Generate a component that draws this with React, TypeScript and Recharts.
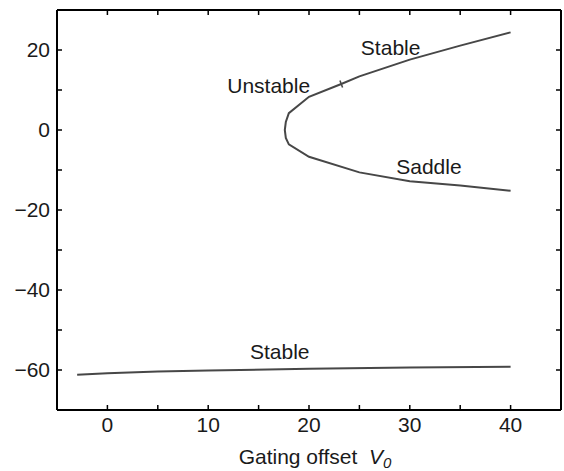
import { ComposedChart, Line, Scatter, XAxis, YAxis, ReferenceDot } from 'recharts';

// upper branch through the fold (V0, membrane potential)
const upperBranch = [
  { x: 40, y: 24.4 },
  { x: 35, y: 21.1 },
  { x: 30, y: 17.6 },
  { x: 25, y: 13.4 },
  { x: 23.2, y: 11.5 },
  { x: 20, y: 8.3 },
  { x: 18, y: 4.2 },
  { x: 17.7, y: 2 },
  { x: 17.6, y: 0 },
  { x: 17.7, y: -2 },
  { x: 18, y: -3.6 },
  { x: 20, y: -6.7 },
  { x: 25, y: -10.6 },
  { x: 30, y: -12.8 },
  { x: 35, y: -13.9 },
  { x: 40, y: -15.2 },
];

const lowerBranch = [
  { x: -3, y: -61.2 },
  { x: 0, y: -60.8 },
  { x: 5, y: -60.4 },
  { x: 10, y: -60.1 },
  { x: 20, y: -59.7 },
  { x: 30, y: -59.4 },
  { x: 40, y: -59.2 },
];

// Hopf point marked on the upper branch
const hopfPoint = [{ x: 23.2, y: 11.5 }];

const annotations = [
  { x: 28.1, y: 20.6, text: 'Stable' },
  { x: 16.0, y: 11.0, text: 'Unstable' },
  { x: 31.9, y: -9.2, text: 'Saddle' },
  { x: 17.1, y: -55.4, text: 'Stable' },
];

const xTicks = [0, 5, 10, 15, 20, 25, 30, 35, 40];
const yTicks = [-60, -50, -40, -30, -20, -10, 0, 10, 20];

const FONT = "'Liberation Sans', Arial, Helvetica, sans-serif";
const LINE = '#474747';
const TXT = '#1a1a1a';

const fmtX = (v: number) => (v % 10 === 0 ? String(v) : '');
const fmtY = (v: number) => (v % 20 === 0 ? (v < 0 ? '\u2212' + Math.abs(v) : String(v)) : '');

function HopfTick({ cx, cy }: { cx?: number; cy?: number }) {
  if (cx == null || cy == null) return null;
  return <line x1={cx - 1.3} y1={cy - 3.5} x2={cx + 1.3} y2={cy + 3.5} stroke={LINE} strokeWidth={1.5} />;
}

function XLabel({ viewBox }: { viewBox?: { x: number; y: number; width: number; height: number } }) {
  if (!viewBox) return null;
  const cx = viewBox.x + viewBox.width / 2 + 6;
  return (
    <text x={cx} y={464} textAnchor="middle" fontFamily={FONT} fontSize={21} fill={TXT}>
      Gating offset{'\u00a0\u00a0'}
      <tspan fontStyle="italic">V</tspan>
      <tspan fontStyle="italic" fontSize={15} dy={4}>0</tspan>
    </text>
  );
}

const noTick = () => null;
const axisLine = { stroke: '#000', strokeWidth: 2 };
const tickLine = { stroke: '#000', strokeWidth: 1.5 };

export default function App() {
  const tickStyle = { fontFamily: FONT, fontSize: 21, fill: TXT };
  return (
    <div style={{ position: 'absolute', left: 0, top: 0 }}>
      <ComposedChart width={564} height={471} margin={{ top: 9, right: 2, bottom: 0, left: 0 }}>
        <XAxis
          xAxisId="b"
          type="number"
          dataKey="x"
          domain={[-5, 45]}
          ticks={xTicks}
          tickFormatter={fmtX}
          height={61}
          tickSize={-5}
          tickMargin={12}
          tick={tickStyle}
          axisLine={axisLine}
          tickLine={tickLine}
          interval={0}
          label={<XLabel />}
        />
        <XAxis
          xAxisId="t"
          orientation="top"
          type="number"
          dataKey="x"
          domain={[-5, 45]}
          ticks={xTicks}
          height={1}
          tickSize={-5}
          tick={noTick}
          axisLine={axisLine}
          tickLine={tickLine}
          interval={0}
        />
        <YAxis
          yAxisId="l"
          type="number"
          domain={[-70, 30]}
          ticks={yTicks}
          tickFormatter={fmtY}
          width={57}
          tickSize={-5}
          tickMargin={12}
          tick={tickStyle}
          axisLine={axisLine}
          tickLine={tickLine}
          interval={0}
        />
        <YAxis
          yAxisId="r"
          orientation="right"
          type="number"
          domain={[-70, 30]}
          ticks={yTicks}
          width={1}
          tickSize={-5}
          tick={noTick}
          axisLine={axisLine}
          tickLine={tickLine}
          interval={0}
        />
        {/* invisible series so the top/right box axes have data */}
        <Line
          xAxisId="t"
          yAxisId="r"
          data={lowerBranch}
          dataKey="y"
          stroke="none"
          dot={false}
          activeDot={false}
          isAnimationActive={false}
        />
        <Line
          xAxisId="b"
          yAxisId="l"
          data={upperBranch}
          dataKey="y"
          type="linear"
          stroke={LINE}
          strokeWidth={2}
          dot={false}
          activeDot={false}
          isAnimationActive={false}
        />
        <Line
          xAxisId="b"
          yAxisId="l"
          data={lowerBranch}
          dataKey="y"
          type="linear"
          stroke={LINE}
          strokeWidth={2}
          dot={false}
          activeDot={false}
          isAnimationActive={false}
        />
        <Scatter
          xAxisId="b"
          yAxisId="l"
          data={hopfPoint}
          dataKey="y"
          shape={<HopfTick />}
          isAnimationActive={false}
        />
        {annotations.map((a, i) => (
          <ReferenceDot
            key={i}
            xAxisId="b"
            yAxisId="l"
            x={a.x}
            y={a.y}
            r={0}
            stroke="none"
            label={{ value: a.text, position: 'center', fontFamily: FONT, fontSize: 21, fill: TXT }}
          />
        ))}
      </ComposedChart>
    </div>
  );
}
